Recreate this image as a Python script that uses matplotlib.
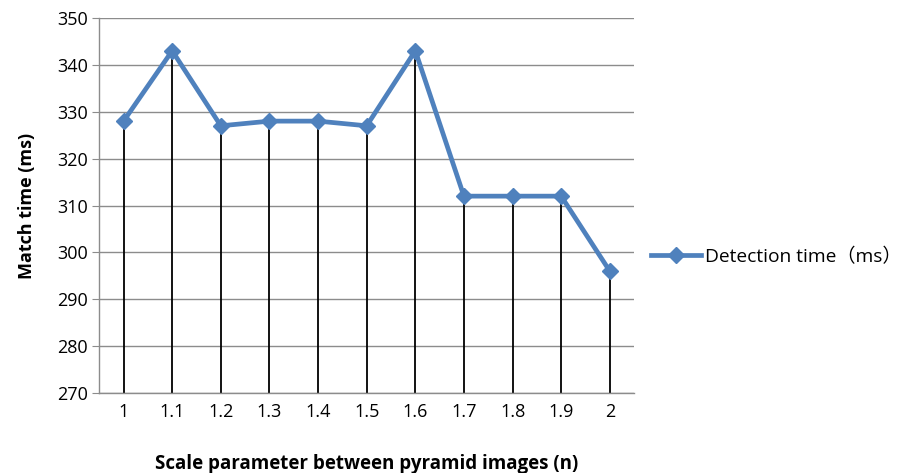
import numpy as np
import matplotlib
matplotlib.use('Agg')
import matplotlib.pyplot as plt

plt.rcParams['font.family'] = ['Open Sans', 'Noto Sans CJK SC']

# data
scales = ['1', '1.1', '1.2', '1.3', '1.4', '1.5', '1.6', '1.7', '1.8', '1.9', '2']
times = [328, 343, 327, 328, 328, 327, 343, 312, 312, 312, 296]
y_ticks = [270, 280, 290, 300, 310, 320, 330, 340, 350]

blue = '#4F81BD'
grid_gray = '#8C8C8C'

fig = plt.figure(figsize=(9.19, 4.73), dpi=100)
ax = fig.add_axes([0.108, 0.169, 0.582, 0.793])

x = np.arange(len(scales))

# drop lines from each point to the axis
ax.vlines(x, y_ticks[0], times, color='black', linewidth=1.3, zorder=2)

ax.plot(x, times, color=blue, linewidth=3.4, marker='D', markersize=8.5,
        markerfacecolor=blue, markeredgecolor=blue, zorder=3,
        label='Detection time（ms）')

ax.set_xlim(-0.5, len(scales) - 0.5)
ax.set_ylim(y_ticks[0], y_ticks[-1])
ax.set_yticks(y_ticks)
ax.set_xticks(x)
ax.set_xticklabels(scales)

ax.yaxis.grid(True, color=grid_gray, linewidth=1.0)
ax.set_axisbelow(True)

for side in ['top', 'right']:
    ax.spines[side].set_visible(False)
for side in ['left', 'bottom']:
    ax.spines[side].set_color(grid_gray)
    ax.spines[side].set_linewidth(1.0)

ax.tick_params(axis='y', length=5, color=grid_gray, labelsize=13, pad=3)
ax.tick_params(axis='x', length=0, labelsize=13, pad=7)

ax.set_ylabel('Match time (ms)', fontsize=13, fontweight='bold', labelpad=15)
ax.set_xlabel('Scale parameter between pyramid images (n)', fontsize=13.5,
              fontweight='bold', labelpad=24)

ax.legend(loc='center left', bbox_to_anchor=(1.0, 0.363), frameon=False,
          fontsize=13.8, handlelength=2.6, handletextpad=0.2)

fig.savefig('out.png', dpi=100)
